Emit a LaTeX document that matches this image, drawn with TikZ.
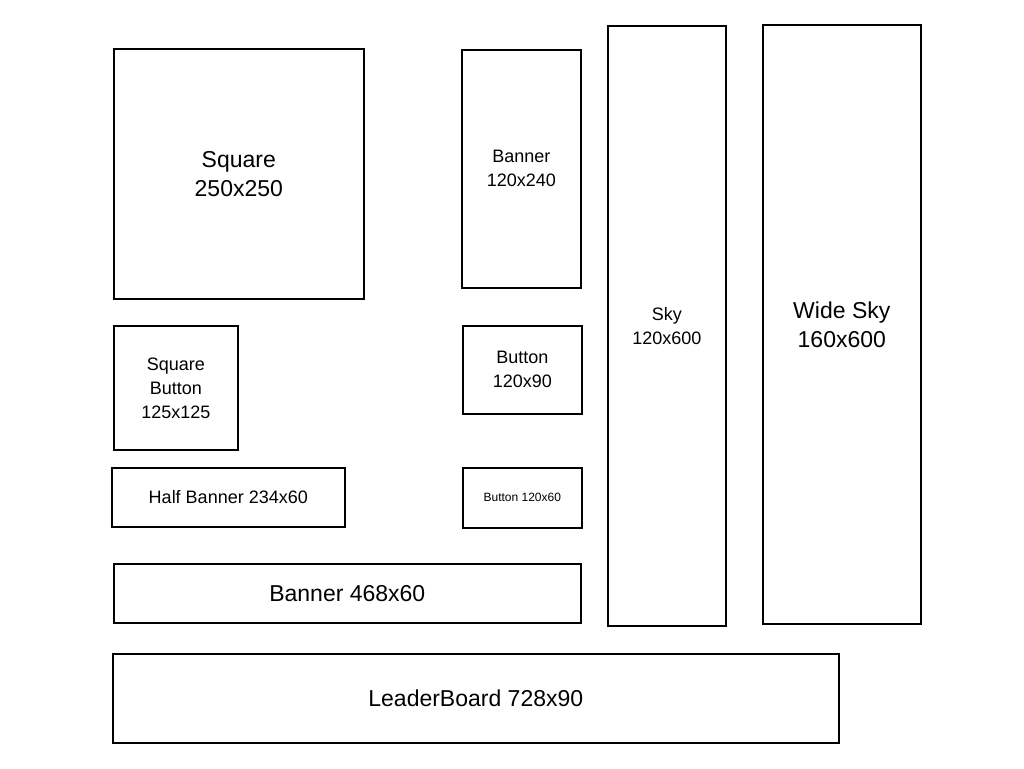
\documentclass[tikz,border=0pt]{standalone}
\usepackage{fontspec}
\setmainfont{Liberation Sans}
\begin{document}
\begin{tikzpicture}[x=1pt, y=-1pt,
adbox/.style={draw=black, line width=1.6pt, anchor=north west, align=center, inner sep=0pt},
big/.style={font=\fontsize{23}{29}\selectfont},
mid/.style={font=\fontsize{18}{24}\selectfont},
small/.style={font=\fontsize{12}{14}\selectfont}
]
\useasboundingbox (0,0) rectangle (1024,768);

%Boxes
\node[adbox, big, minimum width=250pt, minimum height=250pt] (square)   at (113,48)  {Square\\250x250};
\node[adbox, mid, minimum width=119pt, minimum height=238pt] (banner)   at (461,49)  {Banner\\120x240};
\node[adbox, mid, minimum width=118pt, minimum height=600pt] (sky)      at (607,25)  {Sky\\120x600};
\node[adbox, big, minimum width=158pt, minimum height=599pt] (widesky)  at (762,24)  {Wide Sky\\160x600};
\node[adbox, mid, minimum width=124pt, minimum height=124pt] (sqbutton) at (113,325) {Square\\Button\\125x125};
\node[adbox, mid, minimum width=119pt, minimum height=88pt]  (button)   at (462,325) {Button\\120x90};
\node[adbox, mid, minimum width=233pt, minimum height=59pt]  (halfban)  at (111,467) {Half Banner 234x60};
\node[adbox, small, minimum width=119pt, minimum height=60pt] (button2) at (462,467) {Button 120x60};
\node[adbox, big, minimum width=467pt, minimum height=59pt]  (banner2)  at (113,563) {Banner 468x60};
\node[adbox, big, minimum width=726pt, minimum height=89pt]  (leader)   at (112,653) {LeaderBoard 728x90};
\end{tikzpicture}
\end{document}
